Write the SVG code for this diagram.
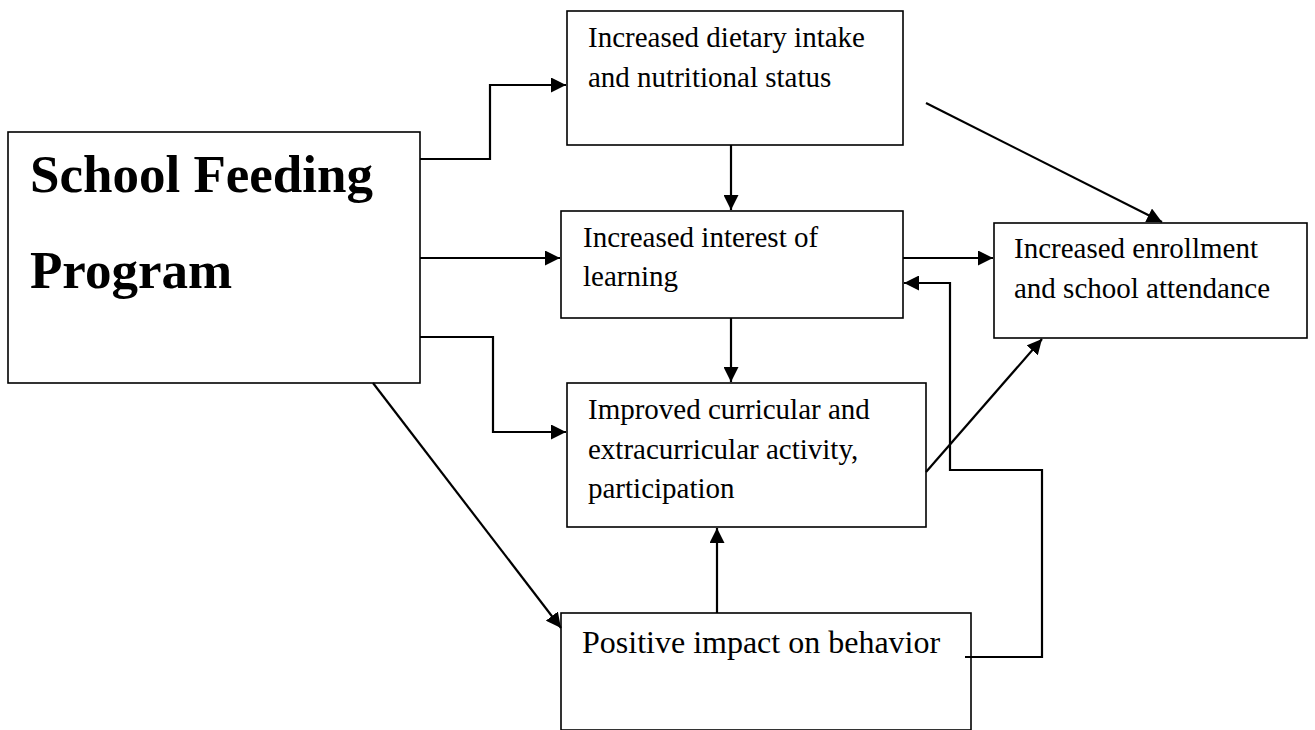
<svg xmlns="http://www.w3.org/2000/svg" width="1315" height="730" viewBox="0 0 1315 730">
<style>
.box{fill:#fff;stroke:#000;stroke-width:1.6}
.t{font-family:"Liberation Serif","Times New Roman",serif;font-size:29px;fill:#000}
.big{font-family:"Liberation Serif","Times New Roman",serif;font-size:53px;font-weight:bold;fill:#000}
.c{fill:none;stroke:#000;stroke-width:2.2}
</style>
<defs>
<marker id="ah" markerUnits="userSpaceOnUse" markerWidth="16" markerHeight="15" refX="15" refY="7.5" orient="auto">
<path d="M0,0 L15,7.5 L0,15 z" fill="#000"/>
</marker>
</defs>
<rect width="1315" height="730" fill="#fff"/>
<g id="n-sfp">
<rect class="box" x="8" y="132" width="412" height="251"/>
<text class="big" x="30" y="192">School Feeding</text>
<text class="big" x="30" y="288">Program</text>
</g>
<g id="n-diet">
<rect class="box" x="567" y="11" width="336" height="134"/>
<text class="t" x="588" y="47">Increased dietary intake</text>
<text class="t" x="588" y="87">and nutritional status</text>
</g>
<g id="n-interest">
<rect class="box" x="561" y="211" width="342" height="107"/>
<text class="t" x="583" y="247">Increased interest of</text>
<text class="t" x="583" y="286">learning</text>
</g>
<g id="n-enroll">
<rect class="box" x="994" y="223" width="313" height="115"/>
<text class="t" x="1014" y="258">Increased enrollment</text>
<text class="t" x="1014" y="298">and school attendance</text>
</g>
<g id="n-curricular">
<rect class="box" x="567" y="383" width="359" height="144"/>
<text class="t" x="588" y="419">Improved curricular and</text>
<text class="t" x="588" y="459">extracurricular activity,</text>
<text class="t" x="588" y="498">participation</text>
</g>
<g id="n-behavior">
<rect class="box" x="561" y="613" width="410" height="117"/>
<text class="t" x="582" y="653" style="font-size:32px">Positive impact on behavior</text>
</g>
<g id="connectors">
<polyline class="c" points="420,159 490,159 490,85 566,85" marker-end="url(#ah)"/>
<polyline class="c" points="420,258 560,258" marker-end="url(#ah)"/>
<polyline class="c" points="420,337 493,337 493,432 566,432" marker-end="url(#ah)"/>
<line class="c" x1="373" y1="383" x2="561" y2="628" marker-end="url(#ah)"/>
<line class="c" x1="731" y1="145" x2="731" y2="210" marker-end="url(#ah)"/>
<line class="c" x1="731" y1="318" x2="731" y2="382" marker-end="url(#ah)"/>
<line class="c" x1="717" y1="613" x2="717" y2="528" marker-end="url(#ah)"/>
<line class="c" x1="903" y1="258" x2="993" y2="258" marker-end="url(#ah)"/>
<line class="c" x1="926" y1="103" x2="1162" y2="222" marker-end="url(#ah)"/>
<line class="c" x1="926" y1="472" x2="1042" y2="339" marker-end="url(#ah)"/>
<polyline class="c" points="965,657 1042,657 1042,470 950,470 950,283 904,283" marker-end="url(#ah)"/>
</g>
</svg>
